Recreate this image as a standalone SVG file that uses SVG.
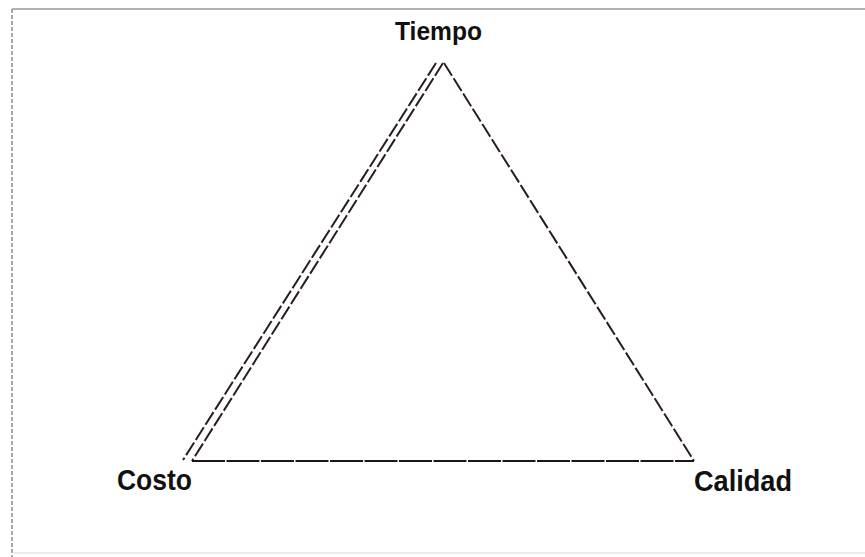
<svg xmlns="http://www.w3.org/2000/svg" width="865" height="557" viewBox="0 0 865 557">
<style>
.lbl{font-family:"Liberation Sans",Arial,sans-serif;font-weight:bold;fill:#111}
.edge{stroke:#2b1c24;stroke-width:2;fill:none;stroke-dasharray:15 3}
.frame{stroke:#9a9a9a;stroke-width:1.5;fill:none}
</style>
<rect width="865" height="557" fill="#ffffff"/>
<g id="frame">
<line class="frame" x1="12" y1="9" x2="865" y2="9"/>
<line x1="12" y1="9" x2="12" y2="557" stroke="#8a8a8a" stroke-width="1.5" stroke-dasharray="4 2"/>
<line x1="12" y1="553" x2="865" y2="553" stroke="#e4e4e4" stroke-width="1.5"/>
</g>
<g id="connectors">
<line class="edge" x1="436" y1="63" x2="183" y2="460"/>
<line class="edge" x1="443" y1="63" x2="192" y2="461"/>
<line class="edge" x1="444" y1="63" x2="694" y2="461"/>
<line x1="192" y1="461" x2="694" y2="461" stroke="#1e1419" stroke-width="2.2" stroke-dasharray="33 1.5"/>
</g>
<g id="tiempo"><text class="lbl" x="395" y="40" font-size="25" textLength="87" lengthAdjust="spacingAndGlyphs">Tiempo</text></g>
<g id="costo"><text class="lbl" x="117" y="490" font-size="29" textLength="75" lengthAdjust="spacingAndGlyphs">Costo</text></g>
<g id="calidad"><text class="lbl" x="694" y="491" font-size="29" textLength="98" lengthAdjust="spacingAndGlyphs">Calidad</text></g>
</svg>
